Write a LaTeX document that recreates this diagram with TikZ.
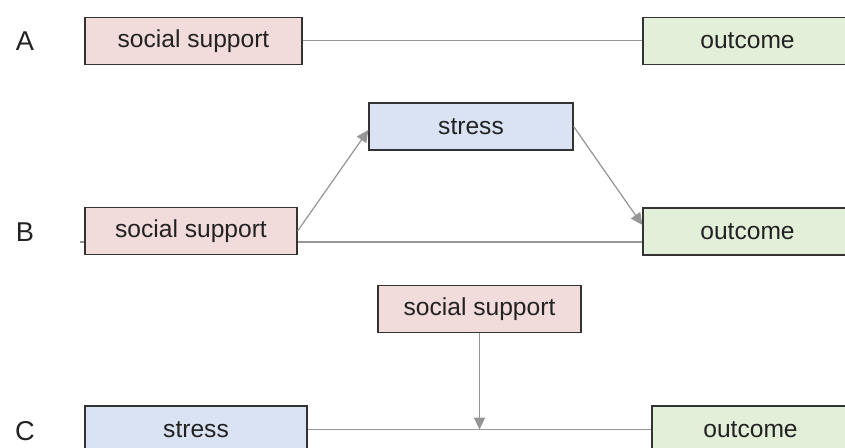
\documentclass[tikz,border=0pt]{standalone}
\usepackage{fontspec}
\setmainfont{Liberation Sans}
\usetikzlibrary{arrows.meta,backgrounds}
\definecolor{pinkbox}{RGB}{242,220,219}
\definecolor{bluebox}{RGB}{218,227,243}
\definecolor{greenbox}{RGB}{226,239,217}
\definecolor{linkgray}{RGB}{150,150,150}
\definecolor{inkgray}{RGB}{34,34,34}
\begin{document}
\begin{tikzpicture}[x=0.02cm,y=-0.02cm,>={Triangle[length=6.8pt,width=6.4pt]},font=\fontsize{14}{16}\selectfont,
		var/.style={draw=black!80,line width=0.75pt,minimum height=0.94cm,inner sep=0pt,text=inkgray},
		link/.style={linkgray,line width=0.7pt},
		panel/.style={font=\fontsize{15.5}{18}\selectfont,text=inkgray}]
			\useasboundingbox (0,0) rectangle (845,448);
			\clip (0,0) rectangle (845,448);
			\node[panel] (labA) at (25,41) {A};
			\node[panel] (labB) at (25,232) {B};
			\node[panel] (labC) at (25,431) {C};
			\node[var,fill=pinkbox,minimum width=4.34cm] (ssA) at (193.5,40.8) {social support};
			\node[var,fill=greenbox,minimum width=4.18cm] (outA) at (747.5,40.8) {outcome};
			\draw[link] (ssA) -- (outA);
			\node[var,fill=pinkbox,minimum width=4.24cm] (ssB) at (191,231) {social support};
			\node[var,fill=bluebox,minimum width=4.08cm] (stressB) at (471,126.5) {stress};
			\node[var,fill=greenbox,minimum width=4.18cm] (outB) at (747.5,231.5) {outcome};
			\coordinate (stubB) at (80,242);
			\begin{scope}[on background layer]
				\draw[link] (stubB) -- (stubB -| outB.west);
			\end{scope}
			\draw[link,->] (ssB.east) -- ([yshift=-2pt]stressB.west);
			\draw[link,->] (stressB.east) -- ([yshift=3.7pt]outB.west);
			\node[var,fill=pinkbox,minimum width=4.06cm,minimum height=0.93cm] (ssC) at (479.5,309) {social support};
			\node[var,fill=bluebox,minimum width=4.44cm] (stressC) at (196,429.5) {stress};
			\node[var,fill=greenbox,minimum width=3.94cm] (outC) at (750.5,429.5) {outcome};
			\draw[link] (stressC) -- (outC);
			\coordinate (midC) at (ssC.south |- stressC.east);
			\draw[link,->] (ssC) -- (midC);
	\end{tikzpicture}
\end{document}
